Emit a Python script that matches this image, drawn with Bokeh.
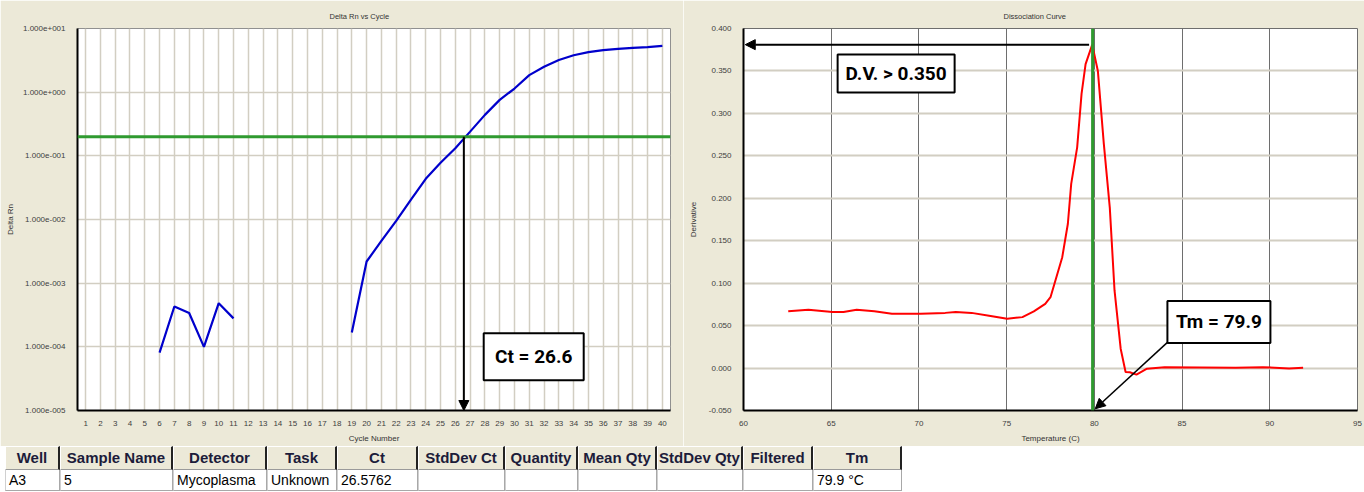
from bokeh.plotting import figure
from bokeh.layouts import column, row
from bokeh.models import (Range1d, FixedTicker, CustomJSTickFormatter, NumeralTickFormatter,
                          Span, Arrow, NormalHead, Div, Label)
from bokeh.embed import file_html
from bokeh.resources import INLINE

NAN = float("nan")

# ---------------- data: amplification plot ----------------
CYCLES = list(range(1, 41))
DELTA_RN = ([NAN] * 5
            + [8.1e-5, 4.3e-4, 3.4e-4, 1.0e-4, 4.85e-4, 2.8e-4]
            + [NAN] * 7
            + [1.68e-4, 2.19e-3, 4.6e-3, 9.5e-3, 0.0206, 0.0435, 0.0777, 0.132,
               0.24, 0.44, 0.757, 1.14, 1.85, 2.5, 3.2, 3.8, 4.25, 4.57, 4.78,
               4.96, 5.1, 5.33])
THRESHOLD = 0.2
CT_VALUE = 26.5762
Y_TICKS_LEFT = [1e-5, 1e-4, 1e-3, 1e-2, 1e-1, 1e0, 1e1]

# ---------------- data: dissociation curve ----------------
TEMP = [62.55, 63.7, 65.07, 65.7, 66.45, 67.46, 68.46, 70.1, 71.5, 72.1, 73.0,
        74.0, 75.03, 75.9, 76.55, 77.2, 77.5, 78.17, 78.49, 78.68, 79.02, 79.27,
        79.5, 79.88, 80.2, 80.54, 80.88, 81.15, 81.5, 81.78, 82.02, 82.4, 83.0,
        84.0, 86.0, 88.05, 89.6, 91.1, 91.9]
DERIV = [0.067, 0.0687, 0.066, 0.066, 0.0687, 0.067, 0.064, 0.064, 0.065, 0.066,
         0.065, 0.0616, 0.058, 0.060, 0.0667, 0.0757, 0.0835, 0.1306, 0.170,
         0.217, 0.260, 0.323, 0.358, 0.381, 0.350, 0.264, 0.189, 0.0914, 0.0228,
         -0.0047, -0.005, -0.0078, -0.0008, 0.001, 0.0007, 0.0004, 0.001,
         -0.0004, 0.0004]
TM_VALUE = 79.9
DV_THRESHOLD = 0.350
X_TICKS_RIGHT = [60, 65, 70, 75, 80, 85, 90, 95]
Y_TICKS_RIGHT = [-0.05, 0.0, 0.05, 0.10, 0.15, 0.20, 0.25, 0.30, 0.35, 0.40]

# ---------------- data: results table ----------------
TABLE_COLUMNS = ["Well", "Sample Name", "Detector", "Task", "Ct", "StdDev Ct",
                 "Quantity", "Mean Qty", "StdDev Qty", "Filtered", "Tm"]
TABLE_ROW = ["A3", "5", "Mycoplasma", "Unknown", "26.5762", "", "", "", "", "", "79.9 °C"]

BEIGE = "#ece9d8"
FONT = "Liberation Sans"
TICK_COLOR = "#404040"
GREEN = "#2f9a2f"


def style_axes(p, ylabel_standoff, title_offset):
    for ax in (p.xaxis, p.yaxis):
        ax.axis_line_color = "black"
        ax.axis_line_width = 2
        ax.major_tick_line_color = None
        ax.minor_tick_line_color = None
        ax.major_label_text_font = FONT
        ax.major_label_text_font_size = "8px"
        ax.major_label_text_color = TICK_COLOR
        ax.axis_label_text_font = FONT
        ax.axis_label_text_font_size = "8px"
        ax.axis_label_text_font_style = "normal"
        ax.axis_label_text_color = "#333333"
    p.xaxis.major_label_standoff = 4
    p.xaxis.axis_label_standoff = 5
    p.yaxis.major_label_standoff = 6
    p.yaxis.axis_label_standoff = ylabel_standoff
    p.title.text_font = FONT
    p.title.text_font_size = "7.5px"
    p.title.text_font_style = "normal"
    p.title.text_color = "#333333"
    p.title.align = "left"
    p.title.offset = title_offset
    p.title.vertical_align = "bottom"
    p.title.standoff = 16


# ================= left: Delta Rn vs Cycle =================
p1 = figure(width=683, height=446, x_range=Range1d(0.45, 40.55),
            y_range=Range1d(1e-5, 10), y_axis_type="log",
            output_backend="svg", toolbar_location=None,
            min_border_left=77, min_border_right=13, min_border_top=28,
            min_border_bottom=36, background_fill_color="white",
            border_fill_color=BEIGE, outline_line_color="#909090",
            title="Delta Rn vs Cycle")
style_axes(p1, 5, 252)
p1.xaxis.axis_label = "Cycle Number"
p1.yaxis.axis_label = "Delta Rn"
p1.xaxis.ticker = FixedTicker(ticks=CYCLES)
p1.xgrid.ticker = FixedTicker(ticks=CYCLES)
p1.yaxis.ticker = FixedTicker(ticks=Y_TICKS_LEFT)
p1.ygrid.ticker = FixedTicker(ticks=Y_TICKS_LEFT)
p1.yaxis.formatter = CustomJSTickFormatter(code="""
const e = Math.round(Math.log10(tick));
const s = e < 0 ? '-' : '+';
return '1.000e' + s + String(Math.abs(e)).padStart(3, '0');
""")
p1.xgrid.grid_line_color = "#d2cec2"
p1.xgrid.grid_line_width = 1.5
p1.ygrid.grid_line_color = "#d2cec2"
p1.ygrid.grid_line_width = 1.5

p1.add_layout(Span(location=THRESHOLD, dimension="width", line_color=GREEN, line_width=3))
p1.line(CYCLES, DELTA_RN, line_color="#0000cc", line_width=2.2)
p1.add_layout(Arrow(end=NormalHead(size=10, fill_color="black", line_color="black"),
                    x_start=CT_VALUE, y_start=THRESHOLD, x_end=CT_VALUE, y_end=1e-5,
                    line_color="black", line_width=2))
p1.rect(x=[31.3], y=[7.0e-5], width=100, height=47, width_units="screen",
        height_units="screen", fill_color="white", line_color="black", line_width=2)
p1.add_layout(Label(x=31.3, y=7.0e-5, text=f"Ct = {CT_VALUE:.1f}", text_align="center",
                    text_baseline="middle", text_font="Roboto", text_font_style="bold",
                    text_font_size="19px", text_color="black"))

# ================= right: Dissociation Curve =================
p2 = figure(width=681, height=446, x_range=Range1d(60, 95), y_range=Range1d(-0.05, 0.4),
            output_backend="svg", toolbar_location=None,
            min_border_left=60, min_border_right=7, min_border_top=28,
            min_border_bottom=36, background_fill_color="white",
            border_fill_color=BEIGE, outline_line_color="#6e6e6e",
            title="Dissociation Curve")
style_axes(p2, 8, 260)
p2.xaxis.axis_label = "Temperature (C)"
p2.yaxis.axis_label = "Derivative"
p2.xaxis.ticker = FixedTicker(ticks=X_TICKS_RIGHT)
p2.xgrid.ticker = FixedTicker(ticks=X_TICKS_RIGHT)
p2.yaxis.ticker = FixedTicker(ticks=Y_TICKS_RIGHT)
p2.ygrid.ticker = FixedTicker(ticks=Y_TICKS_RIGHT)
p2.yaxis.formatter = NumeralTickFormatter(format="0.000")
p2.xgrid.grid_line_color = "#6e6e6e"
p2.xgrid.grid_line_width = 1
p2.ygrid.grid_line_color = "#d2cec2"
p2.ygrid.grid_line_width = 2

p2.line(TEMP, DERIV, line_color="#ff0000", line_width=2)
p2.add_layout(Span(location=TM_VALUE, dimension="height", line_color=GREEN, line_width=3))
peak = max(DERIV)
p2.add_layout(Arrow(end=NormalHead(size=10, fill_color="black", line_color="black"),
                    x_start=79.7, y_start=peak, x_end=60.1, y_end=peak,
                    line_color="black", line_width=2))
p2.rect(x=[68.7], y=[0.347], width=117, height=38, width_units="screen",
        height_units="screen", fill_color="white", line_color="black", line_width=2)
p2.add_layout(Label(x=68.7, y=0.347, text=f"D.V. > {DV_THRESHOLD:.3f}", text_align="center",
                    text_baseline="middle", text_font="Roboto", text_font_style="bold",
                    text_font_size="19px", text_color="black"))
p2.add_layout(Arrow(end=NormalHead(size=10, fill_color="black", line_color="black"),
                    x_start=84.15, y_start=0.030, x_end=80.05, y_end=-0.048,
                    line_color="black", line_width=1.5))
p2.rect(x=[87.1], y=[0.0544], width=103, height=42, width_units="screen",
        height_units="screen", fill_color="white", line_color="black", line_width=2)
p2.add_layout(Label(x=87.1, y=0.0544, text=f"Tm = {TM_VALUE:.1f}", text_align="center",
                    text_baseline="middle", text_font="Roboto", text_font_style="bold",
                    text_font_size="19px", text_color="black"))

# ================= table =================
COL_WIDTHS = [55, 113, 94, 70, 81, 87, 73, 79, 86, 70, 89]
th_style = ("box-sizing:border-box;height:24px;padding:0;background:#ece9d8;"
            "border-top:1px solid #ffffff;border-left:1px solid #ffffff;"
            "border-right:2px solid #222222;border-bottom:1px solid #9a9a9a;"
            "font-size:15px;font-weight:bold;color:#1c1c3a;text-align:center;"
            "white-space:nowrap;overflow:hidden;")
td_style = ("box-sizing:border-box;height:21px;padding:0 3px;background:#ffffff;"
            "border-right:1px solid #a8a8a8;border-bottom:1px solid #a8a8a8;"
            "border-left:1px solid #d0d0d0;font-size:14px;color:#000000;text-align:left;"
            "white-space:nowrap;overflow:hidden;line-height:19px;")
head = "".join(f'<th style="width:{w}px;{th_style}">{c}</th>'
               for c, w in zip(TABLE_COLUMNS, COL_WIDTHS))
body = "".join(f'<td style="width:{w}px;{td_style}">{v}</td>'
               for v, w in zip(TABLE_ROW, COL_WIDTHS))
html = ('<table style="border-collapse:separate;border-spacing:0;table-layout:fixed;'
        f"font-family:'Liberation Sans',Arial,sans-serif;width:{sum(COL_WIDTHS)}px;"
        'margin:0 0 0 5px;">'
        f"<tr>{head}</tr><tr>{body}</tr></table>")
table = Div(text=html, width=1364, height=46, margin=(0, 0, 0, 0),
            styles={"background": "#ffffff"})

layout = column(row(p1, p2, spacing=0), table, spacing=0)
open("out.html", "w").write(file_html(layout, INLINE))
